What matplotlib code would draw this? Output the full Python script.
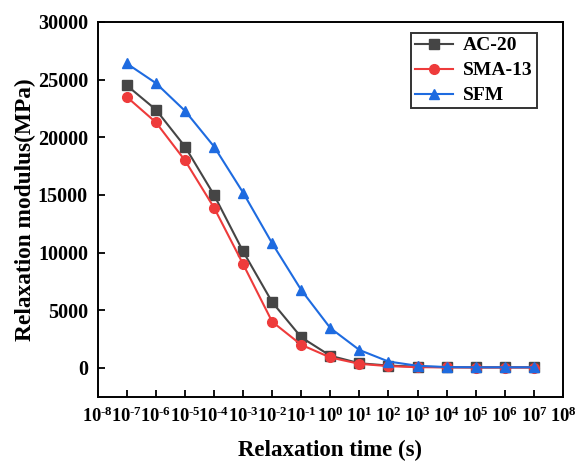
import matplotlib
matplotlib.use("Agg")
import matplotlib.pyplot as plt
import numpy as np

# Relaxation time (s) and relaxation modulus (MPa) for three mixtures
time_s = [1e-7, 1e-6, 1e-5, 1e-4, 1e-3, 1e-2, 1e-1, 1e0, 1e1, 1e2, 1e3, 1e4, 1e5, 1e6, 1e7]
ac20 = [24500, 22400, 19200, 15000, 10100, 5700, 2650, 1050, 400, 200, 100, 60, 50, 50, 50]
sma13 = [23500, 21300, 18000, 13900, 9000, 4000, 2000, 900, 350, 150, 60, 40, 30, 30, 30]
sfm = [26400, 24700, 22300, 19200, 15200, 10800, 6750, 3450, 1550, 550, 180, 70, 50, 50, 50]

xtick_exps = list(range(-8, 9))
yticks = [0, 5000, 10000, 15000, 20000, 25000, 30000]

plt.rcParams['font.family'] = ['Liberation Serif', 'DejaVu Serif']
plt.rcParams['mathtext.fontset'] = 'custom'
plt.rcParams['mathtext.rm'] = 'Liberation Serif:bold'
plt.rcParams['mathtext.it'] = 'Liberation Serif:bold'
plt.rcParams['mathtext.bf'] = 'Liberation Serif:bold'


def power_label(e):
    # short hyphen for negative exponents keeps the labels compact
    exp = str(e).replace('-', '\u2010')
    return r'$\mathregular{10^{%s}}$' % exp


fig = plt.figure(figsize=(5.76, 4.65), dpi=100)
ax = fig.add_axes([0.1696, 0.1469, 0.8078, 0.8058])

ax.plot(time_s, ac20, color='#454545', marker='s', markersize=6.5, linewidth=1.5, label='AC-20')
ax.plot(time_s, sma13, color='#ee3b3b', marker='o', markersize=7, linewidth=1.5, label='SMA-13')
ax.plot(time_s, sfm, color='#1e6be0', marker='^', markersize=7.5, linewidth=1.5, label='SFM')

ax.set_xscale('log')
ax.set_xlim(1e-8, 1e8)
ax.set_ylim(-2500, 30000)
ax.set_xticks([10.0 ** e for e in xtick_exps])
ax.set_xticklabels([power_label(e) for e in xtick_exps])
ax.xaxis.set_minor_locator(matplotlib.ticker.NullLocator())
ax.set_yticks(yticks)
ax.set_yticklabels([str(v) for v in yticks])

ax.tick_params(direction='in', length=5, width=1.3, pad=7)
ax.tick_params(axis='y', labelsize=14.5)
ax.tick_params(axis='x', labelsize=13.3)
for lbl in ax.get_xticklabels() + ax.get_yticklabels():
    lbl.set_fontweight('bold')
for sp in ax.spines.values():
    sp.set_linewidth(1.4)

ax.set_xlabel('Relaxation time (s)', fontsize=16.5, fontweight='bold', labelpad=10)
ax.set_ylabel('Relaxation modulus(MPa)', fontsize=16.8, fontweight='bold', labelpad=1)

leg = ax.legend(loc='upper right', bbox_to_anchor=(0.9435, 0.971), borderaxespad=0,
                frameon=True, fancybox=False, edgecolor='black',
                prop={'weight': 'bold', 'size': 14},
                handlelength=2.0, borderpad=0.2, labelspacing=0.38, handletextpad=0.5)
leg.get_frame().set_linewidth(1.4)

fig.savefig('out.png', dpi=100)
